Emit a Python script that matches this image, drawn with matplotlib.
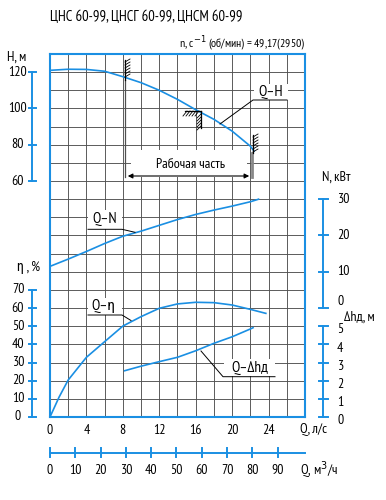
import numpy as np
import matplotlib.pyplot as plt
from matplotlib.patches import Rectangle

plt.rcParams['font.family'] = ['PT Sans Narrow', 'Roboto Condensed', 'DejaVu Sans']

# данные кривых
q_h = [0, 2, 4, 6, 8, 10, 12, 14, 16, 18, 20, 22, 22.4]
h_m = [121, 121.6, 121.5, 120.5, 117.5, 114.2, 110, 105, 99.3, 94, 87.5, 79.2, 76.5]

q_n = [0, 2, 4, 6, 8, 10, 12, 14, 16, 18, 20, 22, 22.9]
n_kw = [11.5, 13.5, 15.6, 17.8, 19.8, 21.2, 22.8, 24.4, 25.8, 27, 28.1, 29.3, 30]

q_eta = [0, 1, 2, 4, 6, 8, 10, 12, 14, 16, 18, 20, 22, 23.7]
eta = [0, 11, 20.4, 32.9, 41.5, 50.1, 55.3, 59.9, 62.3, 63.2, 63, 61.7, 59.3, 57.1]

q_dh = [8.2, 10, 12, 14, 16, 18, 20, 22, 22.3]
dh = [2.55, 2.8, 3.05, 3.29, 3.65, 4.06, 4.42, 4.85, 4.92]

h_ticks = [60, 80, 100, 120]
n_ticks = [0, 10, 20, 30]
eta_ticks = [0, 10, 20, 30, 40, 50, 60, 70]
dh_ticks = [0, 1, 2, 3, 4, 5]
q_ticks = [0, 4, 8, 12, 16, 20, 24]
qm3_ticks = [0, 10, 20, 30, 40, 50, 60, 70, 80, 90]

BLUE = '#1a8fe3'
GRID = '#505050'
W, H = 386, 500

# перевод величин в "клетки" общей сетки
def rH(v): return 7 + np.asarray(v) / 10
def rN(v): return 6 + np.asarray(v) / 5
def rE(v): return np.asarray(v) / 10
def rD(v): return np.asarray(v)
def qx(px): return (px - 50) / 255 * 28
def ry(py): return (417 - py) / 363 * 20

fig = plt.figure(figsize=(W / 100, H / 100), dpi=100)
ax = fig.add_axes([50 / W, 83 / H, 255 / W, 363 / H])
ax.set_xlim(0, 28)
ax.set_ylim(0, 20)
ax.set_xticks(range(0, 29, 2))
ax.set_yticks(range(21))
ax.tick_params(length=0, labelbottom=False, labelleft=False)
ax.grid(True, color=GRID, lw=0.65)
ax.set_axisbelow(True)
for s in ax.spines.values():
    s.set_color(BLUE)
    s.set_linewidth(1.5)

# кривые
ax.plot(q_h, rH(h_m), color=BLUE, lw=1.2, zorder=4)
ax.plot(q_n, rN(n_kw), color=BLUE, lw=1.2, zorder=4)
ax.plot(q_eta, rE(eta), color=BLUE, lw=1.2, zorder=4)
ax.plot(q_dh, rD(dh), color=BLUE, lw=1.2, zorder=4)

fs = 10
kw = dict(clip_on=False, color=BLUE, lw=1.4)

# левые шкалы
xl = qx(32)
ax.plot([xl, xl], [rH(60), rH(120)], **kw)
for v in h_ticks:
    ax.plot([qx(29), qx(36)], [rH(v)] * 2, **kw)
    ax.text(qx(18), rH(v), str(v), ha='center', va='center', fontsize=fs)
ax.plot([xl, xl], [rE(0), rE(70)], **kw)
for v in eta_ticks:
    ax.plot([qx(29), qx(36)], [rE(v)] * 2, **kw)
    ax.text(qx(18), rE(v), str(v), ha='center', va='center', fontsize=fs)

# правые шкалы
xr = qx(323)
ax.plot([xr, xr], [rN(0), rN(30)], **kw)
for v in n_ticks:
    ax.plot([qx(319), qx(328)], [rN(v)] * 2, **kw)
    ax.text(qx(337), rN(v) + (0.35 if v == 0 else 0), str(v), ha='left', va='center', fontsize=fs)
ax.plot([xr, xr], [rD(0), rD(5)], **kw)
for v in dh_ticks:
    ax.plot([qx(319), qx(328)], [rD(v)] * 2, **kw)
    ax.text(qx(337), rD(v) - 0.2, str(v), ha='left', va='center', fontsize=fs)

# нижние шкалы
for v in q_ticks:
    ax.text(v, ry(430), str(v), ha='center', va='center', fontsize=fs)
ax.text(qx(300), ry(430), 'Q, л/с', ha='left', va='center', fontsize=fs)
yb = ry(453)
ax.plot([0, 28], [yb, yb], **kw)
for v in qm3_ticks:
    ax.plot([v / 3.6] * 2, [ry(448), ry(457)], **kw)
    ax.text(v / 3.6, ry(470), str(v), ha='center', va='center', fontsize=fs)
ax.text(qx(300), ry(470), 'Q, м$^3$/ч', ha='left', va='center', fontsize=fs)

# подписи осей
ax.text(qx(17), ry(57), 'H, м', ha='center', va='center', fontsize=fs)
ax.text(qx(29), ry(268), 'η , %', ha='center', va='center', fontsize=fs)
ax.text(qx(336), ry(177), 'N, кВт', ha='center', va='center', fontsize=fs)
ax.text(qx(359), ry(317), 'Δhд, м', ha='center', va='center', fontsize=fs)
ax.text(28, ry(44), 'n, с$^{-1}$ (об/мин) = 49,17(2950)', ha='right', va='center', fontsize=8.5)
fig.text(50 / W, 1 - 17 / H, 'ЦНС 60-99, ЦНСГ 60-99, ЦНСМ 60-99', ha='left', va='center', fontsize=10.5)

# рабочая часть
ax.add_patch(Rectangle((qx(131), ry(177)), qx(247) - qx(131), ry(150) - ry(177),
                       facecolor='white', edgecolor='none', zorder=2))
ax.plot([qx(125)] * 2, [ry(80), ry(177)], color=GRID, lw=0.9, zorder=3)
ax.plot([qx(252)] * 2, [ry(153), ry(177)], color='#888888', lw=2, zorder=3)
ax.annotate('', xy=(qx(125), ry(176)), xytext=(qx(252), ry(176)),
            arrowprops=dict(arrowstyle='<|-|>', color='black', lw=0.8, mutation_scale=7), zorder=3)
ax.text(qx(190), ry(165), 'Рабочая часть', ha='center', va='center', fontsize=fs, zorder=3)

# штриховка границ
def hatch_v(xp, y0, y1, side):
    ax.plot([qx(xp)] * 2, [ry(y0), ry(y1)], color='black', lw=0.9, zorder=5)
    for yy in np.arange(y0 + 2, y1, 3):
        ax.plot([qx(xp), qx(xp + 5 * side)], [ry(yy), ry(yy - 3)], color='black', lw=0.6, zorder=5)

hatch_v(125, 60, 80, 1)
hatch_v(253, 135, 153, 1)
ax.plot([qx(185), qx(201)], [ry(110.7)] * 2, color='black', lw=0.9, zorder=5)
ax.plot([qx(201)] * 2, [ry(110.7), ry(128)], color='black', lw=0.9, zorder=5)
for xx in np.arange(187, 200, 3):
    ax.plot([qx(xx), qx(xx - 4)], [ry(111), ry(116)], color='black', lw=0.6, zorder=5)
for yy in np.arange(114, 128, 3):
    ax.plot([qx(201), qx(197)], [ry(yy), ry(yy + 4)], color='black', lw=0.6, zorder=5)

# выноски
def label(txt, tx, ty, box, lead):
    x0, y0, x1, y1 = box
    ax.add_patch(Rectangle((qx(x0), ry(y1)), qx(x1) - qx(x0), ry(y0) - ry(y1),
                           facecolor='white', edgecolor='none', zorder=2))
    ax.text(qx(tx), ry(ty), txt, ha='center', va='center', fontsize=fs + 1, zorder=6)
    ax.plot([qx(p[0]) for p in lead], [ry(p[1]) for p in lead], color='black', lw=0.7, zorder=6)

label('Q–H', 271, 92, (254, 84, 288, 100), [(287, 100), (253, 100), (220, 124)])
label('Q–N', 105, 219, (88, 210, 122, 229), [(88, 229.3), (122, 229.3), (135, 232.3)])
label('Q–η', 103, 306, (88, 298, 122, 315), [(88, 315), (122, 315), (131, 320.5)])
label('Q–Δhд', 250, 368, (224, 359, 275, 376), [(275, 376.7), (223, 376.7), (201, 351)])

fig.savefig('out.png', dpi=100)
